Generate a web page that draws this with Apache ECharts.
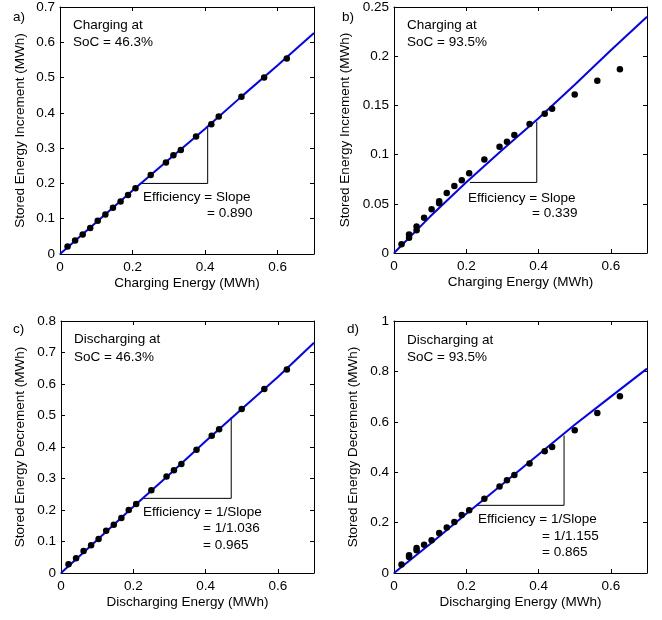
<!DOCTYPE html>
<html><head><meta charset="utf-8">
<script src="https://cdn.jsdelivr.net/npm/echarts@6/dist/echarts.min.js"></script>
<style>html,body{margin:0;padding:0;background:#fff}#c{width:662px;height:620px}</style>
</head><body><div id="c"></div>
<script>
// ---- data ----
const xA = [0.0208,0.0417,0.0625,0.0833,0.104,0.125,0.146,0.167,0.1875,0.208,0.25,0.292,0.3125,0.333,0.375,0.417,0.4375,0.5,0.5625,0.625];
const yA = [0.021,0.038,0.055,0.074,0.094,0.112,0.131,0.149,0.167,0.186,0.224,0.259,0.280,0.295,0.333,0.368,0.390,0.446,0.500,0.554];
const xB = [0.0208,0.0417,0.0417,0.0625,0.0625,0.0833,0.104,0.125,0.125,0.146,0.167,0.1875,0.208,0.25,0.292,0.3125,0.333,0.375,0.417,0.4375,0.5,0.5625,0.625];
const yB = [0.0088,0.0156,0.0187,0.023,0.027,0.0357,0.0445,0.0505,0.0527,0.061,0.068,0.074,0.081,0.095,0.108,0.113,0.120,0.131,0.1416,0.1467,0.161,0.175,0.1868];
const xC = [0.0208,0.0417,0.0625,0.0833,0.104,0.125,0.146,0.167,0.1875,0.208,0.25,0.292,0.3125,0.333,0.375,0.417,0.4375,0.5,0.5625,0.625];
const yC = [0.0276,0.047,0.070,0.088,0.108,0.134,0.153,0.175,0.200,0.219,0.2625,0.306,0.326,0.346,0.391,0.436,0.456,0.521,0.584,0.646];
const xD = [0.0208,0.0417,0.0417,0.0625,0.0625,0.0833,0.104,0.125,0.146,0.167,0.1875,0.208,0.25,0.292,0.3125,0.333,0.375,0.417,0.4375,0.5,0.5625,0.625];
const yD = [0.034,0.0635,0.070,0.090,0.099,0.112,0.130,0.159,0.181,0.202,0.230,0.249,0.295,0.343,0.368,0.389,0.435,0.483,0.500,0.566,0.635,0.701];
// fitted lines
const lineX = [0,0.1,0.2,0.3,0.4,0.5,0.6,0.7];
const lineA = [0,0.090,0.180,0.268,0.355,0.446,0.535,0.626];
const lineB = [0,0.037,0.072,0.105,0.137,0.171,0.206,0.240];
const lineC = [0,0.105,0.210,0.313,0.418,0.521,0.622,0.731];
const lineD = [0,0.115,0.235,0.352,0.470,0.588,0.700,0.811];
// slope triangles
const triAx = [0.22,0.407,0.407], triAy = [0.2,0.2,0.36];
const triBx = [0.21,0.395,0.395], triBy = [0.0717,0.0717,0.1335];
const triCx = [0.229,0.471,0.471], triCy = [0.237,0.237,0.495];
const triDx = [0.228,0.4705,0.4705], triDy = [0.2685,0.2685,0.546];
// axes
const xMax = 0.7, xInt = 0.2;
const yMaxes = [0.7,0.25,0.8,1], yInts = [0.1,0.05,0.1,0.2];
const xNames = ['Charging Energy (MWh)','Charging Energy (MWh)','Discharging Energy (MWh)','Discharging Energy (MWh)'];
const yNames = ['Stored Energy Increment (MWh)','Stored Energy Increment (MWh)','Stored Energy Decrement (MWh)','Stored Energy Decrement (MWh)'];

const FONT = 'Arial, "Liberation Sans", sans-serif';
const FS = 13.5;
const grids = [
  {left:60, top:6, width:254, height:248},
  {left:394, top:5, width:253, height:248},
  {left:61, top:321, width:253, height:252},
  {left:394, top:321, width:253, height:252}
];
const yNameGaps = [33, 42, 34, 34];
const zip = (xs, ys) => xs.map((x,i)=>[x, ys[i]]);
const scat = [zip(xA,yA), zip(xB,yB), zip(xC,yC), zip(xD,yD)];
const lines = [lineA,lineB,lineC,lineD].map(l => zip(lineX, l));
const tris = [zip(triAx,triAy), zip(triBx,triBy), zip(triCx,triCy), zip(triDx,triDy)];

const xAxis = [], yAxis = [], series = [];
const lineStyleAx = {color:'#000', width:1};
grids.forEach((g, i) => {
  const base = {min:0, max:xMax, interval:xInt, gridIndex:i, splitLine:{show:false}};
  xAxis.push(Object.assign({}, base, {
    type:'value', position:'bottom',
    name:xNames[i], nameLocation:'middle', nameGap:22,
    nameTextStyle:{fontFamily:FONT, fontSize:FS, color:'#000'},
    axisLine:{show:true, onZero:false, lineStyle:lineStyleAx},
    axisTick:{show:true, inside:true, length:4, lineStyle:lineStyleAx},
    axisLabel:{fontFamily:FONT, fontSize:FS, color:'#000', margin:6, showMaxLabel:false}
  }));
  xAxis.push(Object.assign({}, base, {
    type:'value', position:'top',
    axisLine:{show:true, onZero:false, lineStyle:lineStyleAx},
    axisTick:{show:true, inside:true, length:4, lineStyle:lineStyleAx},
    axisLabel:{show:false}
  }));
  const ybase = {min:0, max:yMaxes[i], interval:yInts[i], gridIndex:i, splitLine:{show:false}};
  yAxis.push(Object.assign({}, ybase, {
    type:'value', position:'left',
    name:yNames[i], nameLocation:'middle', nameGap:yNameGaps[i],
    nameTextStyle:{fontFamily:FONT, fontSize:FS, color:'#000'},
    axisLine:{show:true, onZero:false, lineStyle:lineStyleAx},
    axisTick:{show:true, inside:true, length:4, lineStyle:lineStyleAx},
    axisLabel:{fontFamily:FONT, fontSize:FS, color:'#000', margin:5}
  }));
  yAxis.push(Object.assign({}, ybase, {
    type:'value', position:'right',
    axisLine:{show:true, onZero:false, lineStyle:lineStyleAx},
    axisTick:{show:true, inside:true, length:4, lineStyle:lineStyleAx},
    axisLabel:{show:false}
  }));
  series.push({type:'line', xAxisIndex:2*i, yAxisIndex:2*i, data:tris[i], symbol:'none', z:2,
    lineStyle:{color:'#000', width:1}, silent:true, animation:false});
  series.push({type:'line', xAxisIndex:2*i, yAxisIndex:2*i, data:lines[i], symbol:'none', z:3,
    lineStyle:{color:'#0000ff', width:2}, silent:true, animation:false});
  series.push({type:'scatter', xAxisIndex:2*i, yAxisIndex:2*i, data:scat[i], symbol:'circle', symbolSize:6.5, z:5,
    itemStyle:{color:'#000', opacity:1}, silent:true, animation:false});
});

const txt = (x, y, s) => ({type:'text', left:x, top:y, style:{text:s, font:FS+'px '+FONT, fill:'#000'}});
const graphic = [
  txt(13,10,'a)'), txt(342,10,'b)'), txt(13,322,'c)'), txt(347,322,'d)'),
  txt(73,18,'Charging at'), txt(73,35,'SoC = 46.3%'),
  txt(407,18,'Charging at'), txt(407,35,'SoC = 93.5%'),
  txt(74,332,'Discharging at'), txt(74,350,'SoC = 46.3%'),
  txt(407,333,'Discharging at'), txt(407,350,'SoC = 93.5%'),
  txt(143,190,'Efficiency = Slope'), txt(207,206,'= 0.890'),
  txt(468,191,'Efficiency = Slope'), txt(532,206,'= 0.339'),
  txt(143,505,'Efficiency = 1/Slope'), txt(203,521,'= 1/1.036'), txt(203,538,'= 0.965'),
  txt(478,512,'Efficiency = 1/Slope'), txt(542,529,'= 1/1.155'), txt(542,545,'= 0.865')
];

const chart = echarts.init(document.getElementById('c'), null, {renderer:'canvas'});
chart.setOption({animation:false, backgroundColor:'#fff', grid:grids, xAxis, yAxis, series, graphic});
</script></body></html>
